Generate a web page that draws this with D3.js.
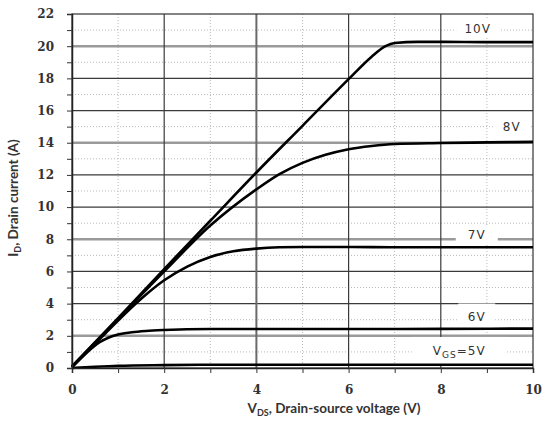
<!DOCTYPE html>
<html>
<head>
<meta charset="utf-8">
<script src="https://cdn.jsdelivr.net/npm/d3@7"></script>
<style>
  body { margin: 0; background: #fff; }
  svg { display: block; }
</style>
</head>
<body>
<script>
'use strict';

// output characteristics, Id vs Vds for several Vgs
const vds10 = [0, 1, 2, 3, 4, 5, 6, 6.5, 6.8, 7, 7.5, 8, 9, 10]
const id10  = [0.1, 3.1, 6.15, 9.15, 12.15, 15.05, 17.95, 19.35, 20.0, 20.2, 20.27, 20.27, 20.25, 20.25]

const vds8 = [0, 1, 2, 3, 4, 4.5, 5, 5.5, 6, 6.5, 7, 8, 9, 10]
const id8  = [0.1, 3.05, 6.0, 8.85, 11.1, 12.05, 12.75, 13.25, 13.6, 13.8, 13.92, 13.98, 14.02, 14.05]

const vds7 = [0, 0.5, 1, 1.5, 2, 2.5, 3, 3.5, 4, 4.5, 5, 6, 7, 8, 9, 10]
const id7  = [0.05, 1.5, 2.95, 4.3, 5.45, 6.3, 6.9, 7.25, 7.42, 7.5, 7.52, 7.52, 7.5, 7.5, 7.5, 7.5]

const vds6 = [0, 0.3, 0.6, 0.8, 1, 1.3, 1.6, 2, 3, 4, 6, 8, 10]
const id6  = [0.05, 0.9, 1.6, 1.9, 2.08, 2.22, 2.3, 2.36, 2.42, 2.42, 2.42, 2.43, 2.45]

const vds5 = [0, 0.5, 1, 2, 3, 10]
const id5  = [0, 0.08, 0.14, 0.18, 0.2, 0.2]

const xTicks = [0, 2, 4, 6, 8, 10]
const yTicks = [0, 2, 4, 6, 8, 10, 12, 14, 16, 18, 20, 22]
const curveNames = ["10V", "8V", "7V", "6V", "VGS=5V"]

const m = { w: 544, h: 429, left: 72, right: 533, top: 14, bottom: 368 }

const svg = d3.select('body').append('svg')
  .attr('width', m.w)
  .attr('height', m.h)

const x = d3.scaleLinear().domain([0, 10]).range([m.left, m.right])
const y = d3.scaleLinear().domain([0, 22]).range([m.bottom, m.top])

// minor dotted grid every 1 unit
const minorX = d3.range(1, 10).filter(v => v % 2 !== 0)
const minorY = d3.range(1, 22).filter(v => v % 2 !== 0)

svg.append('g').selectAll('line').data(minorX).join('line')
  .attr('x1', d => x(d)).attr('x2', d => x(d))
  .attr('y1', m.top).attr('y2', m.bottom)
  .attr('stroke', '#b8b8b8').attr('stroke-width', 1).attr('stroke-dasharray', '1,2')

svg.append('g').selectAll('line').data(minorY).join('line')
  .attr('y1', d => y(d)).attr('y2', d => y(d))
  .attr('x1', m.left).attr('x2', m.right)
  .attr('stroke', '#b8b8b8').attr('stroke-width', 1).attr('stroke-dasharray', '1,2')

// major grid (some lines render lighter & thicker in the original)
const greyY = [2, 8, 14, 20]
svg.append('g').selectAll('line').data(yTicks.filter(d => d > 0 && d < 22)).join('line')
  .attr('y1', d => y(d)).attr('y2', d => y(d))
  .attr('x1', m.left).attr('x2', m.right)
  .attr('stroke', d => greyY.includes(d) ? '#9a9a9a' : '#3a3a3a')
  .attr('stroke-width', d => greyY.includes(d) ? 2.5 : 1.2)

svg.append('g').selectAll('line').data(xTicks.filter(d => d > 0 && d < 10)).join('line')
  .attr('x1', d => x(d)).attr('x2', d => x(d))
  .attr('y1', m.top).attr('y2', m.bottom)
  .attr('stroke', d => d === 4 ? '#6a6a6a' : '#3a3a3a')
  .attr('stroke-width', d => d === 4 ? 2 : 1.2)

// label anchors, in data units
const labelV = [8.8, 9.54, 8.78, 8.78, 8.4]
const labelI = [21.1, 14.97, 8.26, 3.17, 1.06]
const boxW = [43, 37, 42, 37, 95]
const boxH = [18, 18, 17, 27, 28]

const lab = svg.append('g')
curveNames.forEach((name, i) => {
  lab.append('rect')
    .attr('x', x(labelV[i]) - boxW[i] / 2)
    .attr('y', y(labelI[i]) - boxH[i] / 2)
    .attr('width', boxW[i]).attr('height', boxH[i])
    .attr('fill', '#fff')
  const t = lab.append('text')
    .attr('x', x(labelV[i]))
    .attr('y', y(labelI[i]))
    .attr('dy', '0.36em')
    .attr('text-anchor', 'middle')
    .style('font-family', '"DejaVu Sans", sans-serif')
    .style('font-size', '12px')
    .style('letter-spacing', '1px')
    .style('fill', '#333')
  if (name.startsWith('VGS')) {
    t.append('tspan').text('V')
    t.append('tspan').attr('dy', '3').style('font-size', '9px').text('GS')
    t.append('tspan').attr('dy', '-3').text('=5V')
  } else {
    t.text(name)
  }
})

// plot frame
svg.append('rect')
  .attr('x', m.left).attr('y', m.top)
  .attr('width', m.right - m.left).attr('height', m.bottom - m.top)
  .attr('fill', 'none').attr('stroke', '#333').attr('stroke-width', 1.2)

// curves
const series = [
  [vds10, id10], [vds8, id8], [vds7, id7], [vds6, id6], [vds5, id5]
]
const line = d3.line()
  .x(d => x(d[0]))
  .y(d => y(d[1]))
  .curve(d3.curveMonotoneX)

svg.append('g').selectAll('path').data(series).join('path')
  .attr('d', s => line(s[0].map((v, i) => [v, s[1][i]])))
  .attr('fill', 'none')
  .attr('stroke', '#000')
  .attr('stroke-width', 2.6)
  .attr('stroke-linejoin', 'round')

// axes
const xAxis = d3.axisBottom(x)
  .tickValues(d3.range(0, 11))
  .tickSize(5)
  .tickFormat(d => xTicks.includes(d) ? d : '')
  .tickPadding(12)
const gx = svg.append('g')
  .attr('transform', 'translate(0,' + m.bottom + ')')
  .call(xAxis)

const yAxis = d3.axisLeft(y)
  .tickValues(d3.range(0, 23))
  .tickSize(5)
  .tickFormat(d => yTicks.includes(d) ? d : '')
  .tickPadding(13)
const gy = svg.append('g')
  .attr('transform', 'translate(' + m.left + ',0)')
  .call(yAxis)

;[gx, gy].forEach(g => {
  g.select('.domain').attr('stroke', '#222').attr('stroke-width', 1.5)
  g.selectAll('.tick line').attr('stroke', '#333').attr('stroke-width', 1)
  g.selectAll('.tick text')
    .style('font-family', '"DejaVu Serif", serif')
    .style('font-weight', 'bold')
    .style('font-size', '12px')
    .style('fill', '#333')
})

// axis titles
const xt = svg.append('text')
  .attr('x', 334).attr('y', 413)
  .attr('text-anchor', 'middle')
  .style('font-family', 'Lato, sans-serif')
  .style('font-weight', 'bold')
  .style('font-size', '13.5px')
  .style('fill', '#333')
xt.append('tspan').text('V')
xt.append('tspan').attr('dy', 3).style('font-size', '9px').text('DS')
xt.append('tspan').attr('dy', -3).text(', Drain-source voltage (V)')

const yt = svg.append('text')
  .attr('transform', 'translate(18,198)rotate(-90)')
  .attr('text-anchor', 'middle')
  .style('font-family', 'Lato, sans-serif')
  .style('font-weight', 'bold')
  .style('font-size', '13.5px')
  .style('fill', '#333')
yt.append('tspan').text('I')
yt.append('tspan').attr('dy', 3).style('font-size', '9px').text('D')
yt.append('tspan').attr('dy', -3).text(', Drain current (A)')
</script>
</body>
</html>
